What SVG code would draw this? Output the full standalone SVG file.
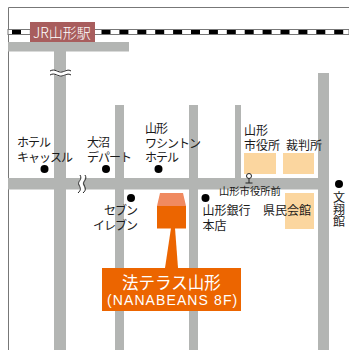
<svg xmlns="http://www.w3.org/2000/svg" width="349" height="350" viewBox="0 0 349 350">
<style>
.road{fill:#b3b5b3}
.peach{fill:#fbd69f}
.dot{fill:#000}
text{font-family:"Noto Sans CJK JP","Liberation Sans",sans-serif;font-size:12px;fill:#1a1a1a}
.k{letter-spacing:-1px}
.w{fill:#fff}
.br{fill:none;stroke:#222;stroke-width:1}
</style>
<rect width="349" height="350" fill="#fff"/>
<path d="M8.500 350V7.500H349" fill="none" stroke="#777" stroke-width="1"/>
<g id="railway">
<rect x="8" y="29.500" width="341" height="5" fill="#fff" stroke="#777" stroke-width="1"/>
<path d="M12 32H349" fill="none" stroke="#000" stroke-width="4" stroke-dasharray="9 8.900"/>
</g>
<g id="roads">
<rect class="road" x="8" y="42" width="121" height="9.500"/>
<rect class="road" x="54" y="51" width="12" height="299"/>
<rect class="road" x="115" y="105" width="9" height="245"/>
<rect class="road" x="189" y="105" width="9" height="245"/>
<rect class="road" x="235" y="105" width="6" height="75"/>
<rect class="road" x="318" y="73" width="11" height="277"/>
<rect class="road" x="8" y="178" width="321" height="11.500"/>
</g>
<g id="connectors">
<path d="M50 73c5-3 8 2 12 1s6-3 9-1" fill="none" stroke="#fff" stroke-width="5"/>
<path class="br" d="M50 71c5-3 8 2 12 1s6-3 9-1M50 75c5-3 8 2 12 1s6-3 9-1"/>
<path d="M82 175c3 5-3 6 -1 10s2 5 -1 8" fill="none" stroke="#fff" stroke-width="4"/>
<path class="br" d="M80 175c3 5-3 6 -1 10s2 5 -1 8M85 175c3 5-3 6 -1 10s2 5 -1 8"/>
</g>
<g id="station">
<rect x="30" y="22" width="65" height="20" fill="#a85d5d"/>
<text class="w" x="33" y="37.500" style="font-size:14px;font-weight:300">JR山形駅</text>
</g>
<g id="hotel-castle">
<text class="k"><tspan x="17" y="147">ホテル</tspan><tspan x="17" y="162">キャッスル</tspan></text>
<circle class="dot" cx="44.500" cy="169" r="4"/>
</g>
<g id="onuma">
<text class="k"><tspan x="87" y="147">大沼</tspan><tspan x="87" y="162">デパート</tspan></text>
<circle class="dot" cx="106" cy="169" r="4"/>
</g>
<g id="washington">
<text class="k"><tspan x="145" y="132.500">山形</tspan><tspan x="145" y="147.500">ワシントン</tspan><tspan x="145" y="162">ホテル</tspan></text>
<circle class="dot" cx="158.500" cy="169" r="4"/>
</g>
<g id="cityhall">
<rect class="peach" x="244" y="153" width="32" height="21"/>
<text><tspan x="244" y="135">山形</tspan><tspan x="244" y="150">市役所</tspan></text>
<circle cx="249" cy="176" r="2.500" fill="#fff" stroke="#222" stroke-width="1"/>
<path d="M249 178.500V183M245.500 183H252.500" stroke="#222" stroke-width="1"/>
</g>
<g id="court">
<rect class="peach" x="283" y="153" width="31" height="21"/>
<text x="286" y="150">裁判所</text>
</g>
<g id="cityhall-stop">
<text x="219" y="195" style="font-size:10.300px">山形市役所前</text>
</g>
<g id="seven">
<circle class="dot" cx="131" cy="198" r="4"/>
<text class="k"><tspan x="104" y="214.500">セブン</tspan><tspan x="93" y="229.500">イレブン</tspan></text>
</g>
<g id="bank">
<circle class="dot" cx="205.500" cy="198" r="4"/>
<text><tspan x="202.500" y="214.500">山形銀行</tspan><tspan x="202.500" y="229.500">本店</tspan></text>
</g>
<g id="kenmin">
<rect class="peach" x="285" y="193" width="29" height="36"/>
<text x="263" y="215">県民会館</text>
</g>
<g id="bunshokan">
<circle class="dot" cx="339" cy="184" r="4"/>
<text x="339" y="191" style="writing-mode:vertical-rl">文翔館</text>
</g>
<g id="target">
<path d="M160 193H183L186 206H157Z" fill="#f08a60"/>
<rect x="157" y="206" width="29" height="22.500" fill="#ec6500"/>
<path d="M171 228H175L178 268H165Z" fill="#ec6500"/>
<rect x="102" y="268" width="139" height="43" fill="#ec6500"/>
<text class="w" x="122" y="288.500" style="font-size:16.500px">法テラス山形</text>
<text class="w" x="107" y="305" style="font-size:14px;letter-spacing:1.100px;font-family:'Liberation Sans',sans-serif">(NANABEANS 8F)</text>
</g>
</svg>
